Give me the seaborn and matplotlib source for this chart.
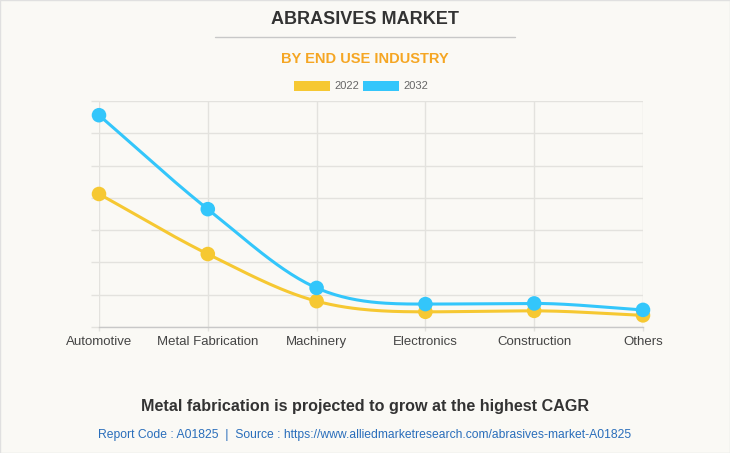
import numpy as np
import pandas as pd
import matplotlib
matplotlib.use("Agg")
import matplotlib.pyplot as plt
import seaborn as sns
from matplotlib.patches import Rectangle
from matplotlib.lines import Line2D

## Dados
industries = ["Automotive", "Metal Fabrication", "Machinery", "Electronics", "Construction", "Others"]
years = ["2022", "2032"]
values_2022 = [4.12, 2.26, 0.80, 0.47, 0.50, 0.36]
values_2032 = [6.56, 3.65, 1.21, 0.71, 0.73, 0.53]
colors = {"2022": "#f6c832", "2032": "#33c6fb"}

df = pd.DataFrame({
    "industry": industries * 2,
    "pos": list(range(len(industries))) * 2,
    "year": ["2022"] * len(industries) + ["2032"] * len(industries),
    "value": values_2022 + values_2032,
})


def monotone_curve(x, y, n=30):
    # curva monotona (Fritsch-Carlson) so para desenhar a linha suave
    x = np.asarray(x, float)
    y = np.asarray(y, float)
    h = np.diff(x)
    d = np.diff(y) / h
    m = np.zeros_like(y)
    m[0], m[-1] = d[0], d[-1]
    for i in range(1, len(y) - 1):
        m[i] = 0 if d[i - 1] * d[i] <= 0 else (d[i - 1] + d[i]) / 2
    for i in range(len(d)):
        if d[i] == 0:
            m[i] = m[i + 1] = 0
        else:
            a, b = m[i] / d[i], m[i + 1] / d[i]
            s = a * a + b * b
            if s > 9:
                t = 3 / np.sqrt(s)
                m[i], m[i + 1] = t * a * d[i], t * b * d[i]
    xs, ys = [], []
    for i in range(len(d)):
        t = np.linspace(0, 1, n, endpoint=(i == len(d) - 1))
        h00 = 2 * t**3 - 3 * t**2 + 1
        h10 = t**3 - 2 * t**2 + t
        h01 = -2 * t**3 + 3 * t**2
        h11 = t**3 - t**2
        xs.append(x[i] + t * h[i])
        ys.append(h00 * y[i] + h10 * h[i] * m[i] + h01 * y[i + 1] + h11 * h[i] * m[i + 1])
    return np.concatenate(xs), np.concatenate(ys)


bg = "#faf9f5"
sns.set_theme(style="white")
plt.rcParams["font.family"] = ["Liberation Sans", "DejaVu Sans"]

fig = plt.figure(figsize=(7.3, 4.53), dpi=100, facecolor=bg)
ax = fig.add_axes([99 / 730, 1 - 327 / 453, (643 - 99) / 730, (327 - 101) / 453])
ax.set_facecolor(bg)

# linhas suaves
curves = []
for yr in years:
    sub = df[df["year"] == yr]
    cx, cy = monotone_curve(sub["pos"], sub["value"])
    curves.append(pd.DataFrame({"x": cx, "y": cy, "year": yr}))
curves = pd.concat(curves)
sns.lineplot(data=curves, x="x", y="y", hue="year", palette=colors, linewidth=2.2,
             ax=ax, legend=False, sort=False, estimator=None)
sns.scatterplot(data=df, x="pos", y="value", hue="year", palette=colors, s=110,
                edgecolor="none", ax=ax, legend=False, zorder=5, clip_on=False)
for coll in ax.collections:
    coll.set_clip_on(False)

ax.set_xlim(0, 5)
ax.set_ylim(0, 7)
ax.set_xticks(range(len(industries)))
ax.set_xticklabels(industries, fontsize=9.5, color="#444444")
for lbl in ax.get_xticklabels():
    lbl.set_va("baseline")
ax.set_yticks(np.arange(0, 8, 1))
ax.set_yticklabels([])
ax.grid(True, color="#e3e2de", linewidth=1)
ax.tick_params(axis="y", length=6, color="#e3e2de", width=1, left=True)
ax.tick_params(axis="x", length=3, color="#e3e2de", width=1, bottom=True, pad=10)
ax.set_xlabel("")
ax.set_ylabel("")
for side in ["top", "right", "left"]:
    ax.spines[side].set_visible(False)
ax.spines["bottom"].set_color("#c8c8c8")
ax.spines["bottom"].set_linewidth(1)

# titulos
fig.text(0.5, 1 - 20 / 453, "ABRASIVES MARKET", ha="center", va="center",
         fontsize=13, fontweight="bold", color="#333333")
fig.add_artist(Line2D([215 / 730, 515 / 730], [1 - 37 / 453, 1 - 37 / 453],
                      color="#c8c8c8", linewidth=1))
fig.text(0.5, 1 - 59 / 453, "BY END USE INDUSTRY", ha="center", va="center",
         fontsize=10.5, fontweight="bold", color="#f5a623")

# legenda manual
for x0, yr in [(294, "2022"), (363, "2032")]:
    fig.add_artist(Rectangle((x0 / 730, 1 - 91 / 453), 36 / 730, 10 / 453,
                             facecolor=colors[yr], edgecolor="none"))
    fig.text((x0 + 40) / 730, 1 - 86 / 453, yr, ha="left", va="center",
             fontsize=8, color="#666666")

fig.text(0.5, 1 - 407 / 453, "Metal fabrication is projected to grow at the highest CAGR",
         ha="center", va="center", fontsize=11.6, fontweight="bold", color="#333333")
fig.text(0.5, 1 - 435 / 453,
         "Report Code : A01825  |  Source : https://www.alliedmarketresearch.com/abrasives-market-A01825",
         ha="center", va="center", fontsize=8.7, color="#2a6ebb")

fig.add_artist(Rectangle((0, 0), 1, 1, transform=fig.transFigure, fill=False,
                         edgecolor="#e0e0e0", linewidth=1))

fig.savefig("out.png", dpi=100, facecolor=bg)
